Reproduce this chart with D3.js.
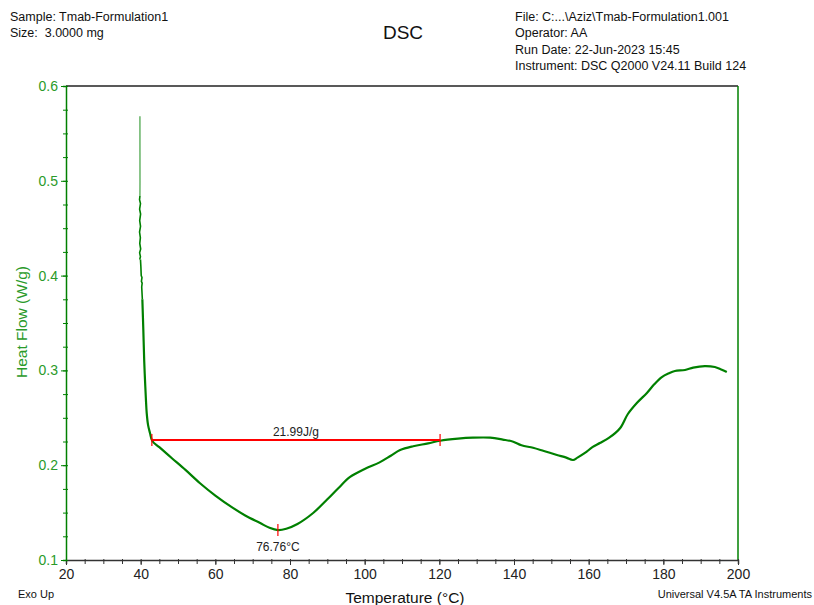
<!DOCTYPE html>
<html>
<head>
<meta charset="utf-8">
<script src="https://cdn.jsdelivr.net/npm/d3@7"></script>
<style>
  body { margin: 0; background: #fff; }
  svg { font-family: "Liberation Sans", Arial, sans-serif; }
  text { white-space: pre; }
</style>
</head>
<body>
<svg id="chart"></svg>
<script>
// noisy spike at start of run
const spikeTemps = [39.80, 39.81, 39.82, 39.80, 39.70, 39.95, 39.72, 39.98, 39.74, 39.96, 39.70, 39.92, 39.76, 40.00,
  39.72, 39.94, 39.80, 39.85];
const spikeFlow = [0.568, 0.53, 0.50, 0.484, 0.480, 0.476, 0.470, 0.465, 0.458, 0.452, 0.446, 0.440, 0.434, 0.428,
  0.424, 0.420, 0.418, 0.417];

// DSC trace
const temps = [39.95, 40.05, 40.15, 40.35, 40.20, 40.40, 40.28, 40.45, 40.71, 40.95,
  41.16, 41.40, 41.62, 42.00, 42.50, 43.12, 45.0, 48.3, 52.0, 55.9, 60.0, 64.7, 68.0, 72.0, 74.5, 76.8, 79.0,
  82.0, 86.2, 90.0, 93.0, 96.1, 100.0, 104.0, 107.0, 109.5, 113.0, 117.0, 120.2, 125.0, 129.0, 133.6, 137.0,
  139.8, 142.0, 145.1, 148.0, 151.5, 154.0, 155.8, 157.0, 159.0, 161.0, 163.0, 165.5, 168.4, 170.5, 172.9,
  175.6, 177.5, 179.6, 181.5, 183.1, 185.8, 188.0, 191.1, 193.8, 195.5, 197.0];
const heatFlow = [0.417, 0.41, 0.40, 0.398, 0.394, 0.392, 0.388, 0.375, 0.343, 0.31,
  0.290, 0.270, 0.255, 0.242, 0.234, 0.2255, 0.219, 0.2076, 0.195, 0.181, 0.168, 0.155, 0.147, 0.139, 0.134, 0.1316, 0.133,
  0.138, 0.1496, 0.164, 0.176, 0.1876, 0.196, 0.203, 0.210, 0.216, 0.220, 0.223, 0.2258, 0.228, 0.229, 0.229, 0.227,
  0.2248, 0.221, 0.2184, 0.215, 0.2108, 0.208, 0.2055, 0.208, 0.2129, 0.219, 0.2234, 0.229, 0.239, 0.254, 0.2656,
  0.2762, 0.285, 0.293, 0.297, 0.2994, 0.3004, 0.303, 0.3046, 0.3036, 0.301, 0.2983];

const xTicks = [20, 40, 60, 80, 100, 120, 140, 160, 180, 200];
const yTicks = [0.1, 0.2, 0.3, 0.4, 0.5, 0.6];

// integration baseline and peak
const baseStart = 43.0, baseEnd = 120.2, baseValue = 0.2266;
const enthalpyLabel = "21.99J/g";
const peakTemp = 76.76, peakValue = 0.1316;
const peakLabel = "76.76°C";

const headerLeft = ["Sample: Tmab-Formulation1", "Size:  3.0000 mg"];
const headerRight = ["File: C:...\\Aziz\\Tmab-Formulation1.001", "Operator: AA", "Run Date: 22-Jun-2023 15:45",
  "Instrument: DSC Q2000 V24.11 Build 124"];

const W = 814, H = 605;
const margin = {top: 86, right: 76, bottom: 45, left: 66};
const width = W - margin.left - margin.right;
const height = H - margin.top - margin.bottom;

const green = "#008000";
const labelGreen = "#2a9a2a";

const svg = d3.select("#chart").attr("width", W).attr("height", H);

const x = d3.scaleLinear().domain([20, 200]).range([0, width]);
const y = d3.scaleLinear().domain([0.1, 0.6]).range([height, 0]);

const g = svg.append("g").attr("transform", `translate(${margin.left},${margin.top})`);

// frame: top black, right green
g.append("line").attr("x1", 0).attr("x2", width).attr("y1", 0).attr("y2", 0)
  .attr("stroke", "#222").attr("stroke-width", 1.5);
g.append("line").attr("x1", width).attr("x2", width).attr("y1", 0).attr("y2", height)
  .attr("stroke", green).attr("stroke-width", 1.5);

// x axis
const xMinor = g.append("g").attr("transform", `translate(0,${height})`)
  .call(d3.axisBottom(x).tickValues(d3.range(20, 201, 5)).tickSize(4).tickFormat(""));
xMinor.select(".domain").attr("stroke", "#333").attr("stroke-width", 1.5);
xMinor.selectAll(".tick line").attr("stroke", "#333").attr("y1", -1);

const xAxis = g.append("g").attr("transform", `translate(0,${height})`)
  .call(d3.axisBottom(x).tickValues(xTicks).tickSize(5).tickPadding(4));
xAxis.select(".domain").remove();
xAxis.selectAll(".tick line").attr("stroke", "#333");
xAxis.selectAll("text").attr("font-size", 14).attr("fill", "#222")
  .style("font-family", "Liberation Sans, Arial, sans-serif");

// y axis
const yMinor = g.append("g")
  .call(d3.axisLeft(y).tickValues(d3.range(0.1, 0.6001, 0.025)).tickSize(3).tickFormat(""));
yMinor.select(".domain").attr("stroke", green).attr("stroke-width", 1.5);
yMinor.selectAll(".tick line").attr("stroke", green).attr("x2", 2).attr("x1", -3);

const yAxis = g.append("g")
  .call(d3.axisLeft(y).tickValues(yTicks).tickSize(5).tickPadding(3).tickFormat(d3.format(".1f")));
yAxis.select(".domain").remove();
yAxis.selectAll(".tick line").attr("stroke", green);
yAxis.selectAll("text").attr("font-size", 14).attr("fill", labelGreen)
  .style("font-family", "Liberation Sans, Arial, sans-serif");

// data curve
const spikePts = spikeTemps.map((t, i) => [t, spikeFlow[i]]);
const pts = temps.map((t, i) => [t, heatFlow[i]]);
const straight = d3.line().x(d => x(d[0])).y(d => y(d[1]));
const smooth = d3.line().x(d => x(d[0])).y(d => y(d[1])).curve(d3.curveCatmullRom.alpha(0.5));
g.append("path").datum(spikePts.slice(0, 4))
  .attr("d", straight)
  .attr("fill", "none").attr("stroke", green).attr("stroke-width", 1.5).attr("stroke-opacity", 0.6);
g.append("path").datum(spikePts.slice(3))
  .attr("d", straight)
  .attr("fill", "none").attr("stroke", green).attr("stroke-width", 1.6);
g.append("path").datum(pts.slice(0, 8))
  .attr("d", straight)
  .attr("fill", "none").attr("stroke", green).attr("stroke-width", 1.6);
g.append("path").datum(pts.slice(7))
  .attr("d", smooth)
  .attr("fill", "none").attr("stroke", green).attr("stroke-width", 2.2);

// baseline annotation
const red = "#ff0000";
g.append("line").attr("x1", x(baseStart)).attr("x2", x(baseEnd))
  .attr("y1", y(baseValue)).attr("y2", y(baseValue)).attr("stroke", red).attr("stroke-width", 2);
[baseStart, baseEnd].forEach(t => {
  g.append("line").attr("x1", x(t)).attr("x2", x(t))
    .attr("y1", y(baseValue) - 6).attr("y2", y(baseValue) + 6).attr("stroke", red).attr("stroke-width", 1.2);
});
g.append("text").attr("x", x((baseStart + baseEnd) / 2)).attr("y", y(baseValue) - 4)
  .attr("text-anchor", "middle").attr("font-size", 12).attr("fill", "#222").text(enthalpyLabel);

// peak annotation
g.append("line").attr("x1", x(peakTemp)).attr("x2", x(peakTemp))
  .attr("y1", y(peakValue) - 6).attr("y2", y(peakValue) + 6).attr("stroke", red).attr("stroke-width", 1.2);
g.append("text").attr("x", x(peakTemp)).attr("y", y(peakValue) + 21)
  .attr("text-anchor", "middle").attr("font-size", 12).attr("fill", "#222").text(peakLabel);

// axis titles
svg.append("text").attr("x", 405).attr("y", 603)
  .attr("text-anchor", "middle").attr("font-size", 15.5).attr("fill", "#111").text("Temperature (°C)");
svg.append("text").attr("transform", `translate(27,322) rotate(-90)`)
  .attr("text-anchor", "middle").attr("font-size", 15.5).attr("fill", labelGreen).text("Heat Flow (W/g)");

// header
svg.append("g").selectAll("text").data(headerLeft).join("text")
  .attr("x", 10).attr("y", (d, i) => 21 + i * 16)
  .attr("font-size", 12.5).attr("fill", "#111").text(d => d);
svg.append("g").selectAll("text").data(headerRight).join("text")
  .attr("x", 515).attr("y", (d, i) => 21 + i * 16.3)
  .attr("font-size", 12.5).attr("fill", "#111").text(d => d);
svg.append("text").attr("x", 403).attr("y", 39).attr("text-anchor", "middle")
  .attr("font-size", 19).attr("fill", "#111").text("DSC");

// footer
svg.append("text").attr("x", 18).attr("y", 598).attr("font-size", 11).attr("fill", "#111").text("Exo Up");
svg.append("text").attr("x", 812).attr("y", 598).attr("text-anchor", "end")
  .attr("font-size", 11).attr("fill", "#111").text("Universal V4.5A TA Instruments");
</script>
</body>
</html>
